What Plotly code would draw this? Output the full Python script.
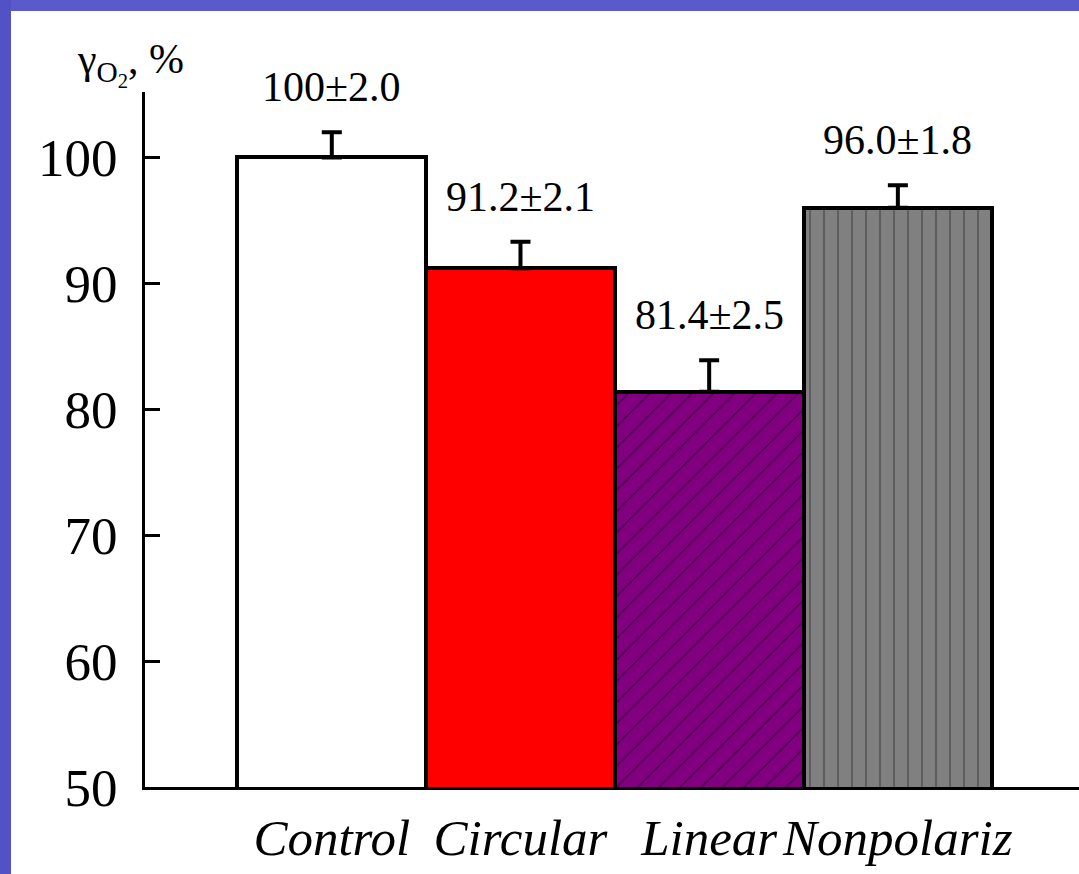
import plotly.graph_objects as go

categories = ["Control", "Circular", "Linear", "Nonpolariz"]
values = [100.0, 91.2, 81.4, 96.0]
errors = [2.0, 2.1, 2.5, 1.8]
labels = ["100±2.0", "91.2±2.1", "81.4±2.5", "96.0±1.8"]
y_ticks = [50, 60, 70, 80, 90, 100]

fill_colors = ["#ffffff", "#ff0000", "#800080", "#808080"]
pattern_shapes = ["", "", "/", "|"]
pattern_fg = ["#000000", "#000000", "#1a001a", "#3a3a3a"]
pattern_size = [10, 10, 15, 14]
pattern_solid = [0.1, 0.1, 0.1, 0.14]

SERIF = "Liberation Serif"

W, H = 1079, 874
ML, MR, MT, MB = 145, 0, 92, 87
PW, PH = W - ML - MR, H - MT - MB

fig = go.Figure()
for i, c in enumerate(categories):
    pat = dict(shape=pattern_shapes[i], fgcolor=pattern_fg[i], size=pattern_size[i],
               solidity=pattern_solid[i], fillmode="overlay")
    fig.add_trace(go.Bar(
        x=[c],
        y=[values[i]],
        width=1.0,
        marker=dict(color=fill_colors[i], line=dict(color="black", width=4), pattern=pat),
        error_y=dict(type="data", array=[errors[i]], arrayminus=[0], symmetric=False,
                     color="black", thickness=4, width=10),
        showlegend=False,
    ))

for c, v, e, t in zip(categories, values, errors, labels):
    fig.add_annotation(x=c, y=v + e, text=t, showarrow=False, xanchor="center", yanchor="bottom",
                       yshift=20, font=dict(family=SERIF, size=42, color="black"))

# y-axis title at top-left
fig.add_annotation(xref="paper", yref="paper", x=(186 - ML) / PW, y=1.0,
                   text="γ<sub>O<sub>2</sub></sub>, %",
                   showarrow=False, xanchor="right", yanchor="bottom", yshift=-2,
                   font=dict(family=SERIF, size=42, color="black"))

# blue slide border (left and top), bounded within the figure
fig.add_shape(type="rect", xref="paper", yref="paper", x0=-ML / PW, x1=-(ML - 11) / PW,
              y0=-MB / PH, y1=1 + MT / PH, fillcolor="#5252c6", line=dict(width=0), layer="below")
fig.add_shape(type="rect", xref="paper", yref="paper", x0=-(ML - 11) / PW, x1=1.0,
              y0=1 + (MT - 11) / PH, y1=1 + MT / PH, fillcolor="#5a5acb", line=dict(width=0),
              layer="below")

fig.update_layout(
    width=W, height=H,
    margin=dict(l=ML, r=MR, t=MT, b=MB, pad=0),
    font=dict(family=SERIF, color="black"),
    paper_bgcolor="white",
    plot_bgcolor="white",
    barmode="overlay",
    bargap=0,
    xaxis=dict(range=[-0.99, 3.96], showline=True, linecolor="black", linewidth=3,
               ticks="", showgrid=False, zeroline=False, tickangle=0, automargin=False,
               tickfont=dict(family=SERIF, size=51, color="black", style="italic"),
               ticklabelstandoff=4),
    yaxis=dict(range=[50, 105.2], tickvals=y_ticks, showline=True, linecolor="black", linewidth=3,
               ticks="inside", ticklen=15, tickwidth=3, tickcolor="black",
               showgrid=False, zeroline=False, automargin=False,
               tickfont=dict(family=SERIF, size=53, color="black"), ticklabelstandoff=14),
)

fig.write_html("out.html")
